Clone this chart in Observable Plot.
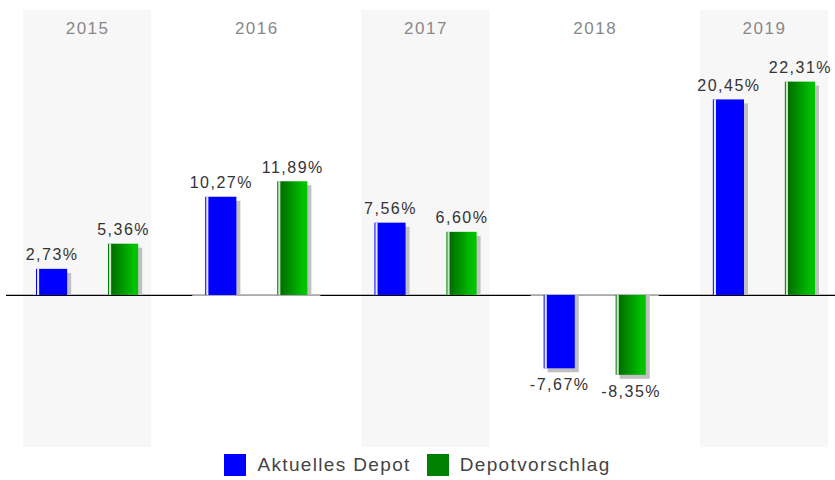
<!DOCTYPE html>
<html>
<head>
<meta charset="utf-8">
<script src="https://cdn.jsdelivr.net/npm/d3@7"></script>
<script src="https://cdn.jsdelivr.net/npm/@observablehq/plot@0.6"></script>
<style>
  body { margin: 0; background: #fff; font-family: "Liberation Sans", Arial, sans-serif; }
  #legend { display: flex; justify-content: center; align-items: center; height: 30px; font-size: 19px; color: #444; letter-spacing: 1.35px; }
  #legend .item { display: flex; align-items: center; margin: 0 8px; }
  #legend .sw { width: 22px; height: 22px; margin-right: 11px; }
</style>
</head>
<body>
<div id="chart"></div>
<div id="legend"></div>
<script>
const years = ["2015", "2016", "2017", "2018", "2019"];
const aktuell = [2.73, 10.27, 7.56, -7.67, 20.45];
const vorschlag = [5.36, 11.89, 6.60, -8.35, 22.31];
const seriesNames = ["Aktuelles Depot", "Depotvorschlag"];
const seriesColors = ["#0000ff", "#008000"];
const shadedYears = ["2015", "2017", "2019"];
const plainYears = ["2016", "2018"];
const yDomain = [-15.9, 29.8];

const A = years.map((y, i) => ({year: y, value: aktuell[i]}));
const B = years.map((y, i) => ({year: y, value: vorschlag[i]}));
const fmt = d => d.value.toFixed(2).replace(".", ",") + "%";
const pos = arr => arr.filter(d => d.value >= 0);
const neg = arr => arr.filter(d => d.value < 0);

const plot = Plot.plot({
  width: 835,
  height: 450,
  marginTop: 10,
  marginBottom: 3,
  marginLeft: 23,
  marginRight: 7,
  style: {fontFamily: "'Liberation Sans', Arial, sans-serif", letterSpacing: "1.5px", background: "#fff"},
  x: {domain: years, paddingInner: 41 / 169, paddingOuter: 0, round: false, axis: null},
  y: {domain: yDomain, axis: null},
  marks: [
    Plot.barY(shadedYears, {x: d => d, y1: yDomain[0], y2: yDomain[1], fill: "#f7f7f7"}),
    Plot.ruleY([0], {stroke: "#000", strokeWidth: 1.2, insetLeft: -17, insetRight: -7}),
    Plot.tickY(plainYears, {x: d => d, y: () => 0, stroke: "#aaa", strokeWidth: 1.2}),
    // shadows
    Plot.barY(pos(A), {x: "year", y: "value", fill: "#c0c0c0", insetLeft: 17, insetRight: 80, insetTop: 4}),
    Plot.barY(neg(A), {x: "year", y: "value", fill: "#c0c0c0", insetLeft: 17, insetRight: 80, insetBottom: -4}),
    Plot.barY(pos(B), {x: "year", y: "value", fill: "#c0c0c0", insetLeft: 89, insetRight: 9, insetTop: 4}),
    Plot.barY(neg(B), {x: "year", y: "value", fill: "#c0c0c0", insetLeft: 89, insetRight: 9, insetBottom: -4}),
    // bars
    Plot.barY(A, {x: "year", y: "value", fill: seriesColors[0], insetLeft: 13, insetRight: 84}),
    Plot.barY(B, {x: "year", y: "value", fill: "url(#greenGrad)", insetLeft: 85, insetRight: 13}),
    // highlights
    Plot.barY(A, {x: "year", y: "value", fill: "#fff", fillOpacity: 0.9, insetLeft: 14, insetRight: 112}),
    Plot.barY(B, {x: "year", y: "value", fill: "#fff", fillOpacity: 0.8, insetLeft: 86, insetRight: 40}),
    // labels
    Plot.text(pos(A), {x: "year", y: "value", text: fmt, dx: -35.5, dy: -9, lineAnchor: "bottom", fontSize: 16, fill: "#333"}),
    Plot.text(neg(A), {x: "year", y: "value", text: fmt, dx: -35.5, dy: 10, lineAnchor: "top", fontSize: 16, fill: "#333"}),
    Plot.text(pos(B), {x: "year", y: "value", text: fmt, dx: 36, dy: -9, lineAnchor: "bottom", fontSize: 16, fill: "#333"}),
    Plot.text(neg(B), {x: "year", y: "value", text: fmt, dx: 36, dy: 10, lineAnchor: "top", fontSize: 16, fill: "#333"}),
    // year labels
    Plot.text(years, {x: d => d, frameAnchor: "top", dy: 18, lineAnchor: "middle", fontSize: 17, fill: "#888"})
  ]
});

// gradient definition for green bars
const svg = d3.select(plot);
const defs = svg.insert("defs", ":first-child");
const grad = defs.append("linearGradient").attr("id", "greenGrad").attr("x1", "0").attr("x2", "1").attr("y1", "0").attr("y2", "0");
grad.append("stop").attr("offset", "0").attr("stop-color", "#008000");
grad.append("stop").attr("offset", "0.12").attr("stop-color", "#006f00");
grad.append("stop").attr("offset", "0.85").attr("stop-color", "#00c000");
grad.append("stop").attr("offset", "1").attr("stop-color", "#00c400");

document.getElementById("chart").appendChild(plot);

const legend = document.getElementById("legend");
seriesNames.forEach((name, i) => {
  const item = document.createElement("div");
  item.className = "item";
  const sw = document.createElement("div");
  sw.className = "sw";
  sw.style.background = seriesColors[i];
  const label = document.createElement("span");
  label.textContent = name;
  item.appendChild(sw);
  item.appendChild(label);
  legend.appendChild(item);
});
</script>
</body>
</html>
